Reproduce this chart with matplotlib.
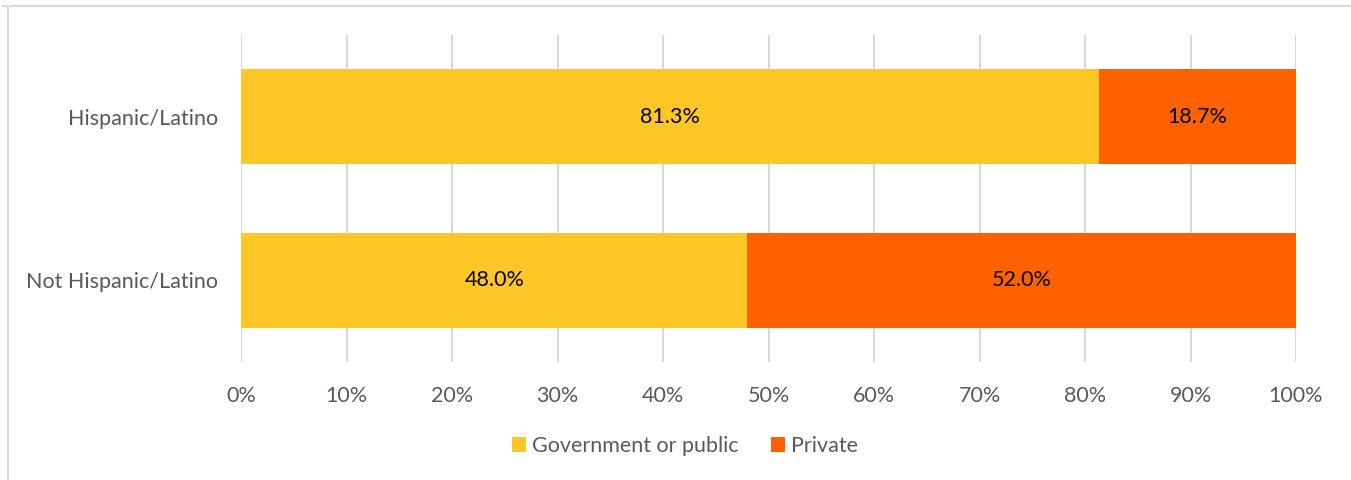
import matplotlib
matplotlib.use('Agg')
import matplotlib.pyplot as plt
from matplotlib.lines import Line2D
from matplotlib.patches import Patch

plt.rcParams['font.family'] = ['Lato', 'DejaVu Sans']

groups = ['Hispanic/Latino', 'Not Hispanic/Latino']
series_names = ['Government or public', 'Private']
gov = [81.3, 48.0]
private = [18.7, 52.0]
colors = ['#FFC627', '#FF6000']
xticks = [0, 10, 20, 30, 40, 50, 60, 70, 80, 90, 100]

fs = 15.5

fig = plt.figure(figsize=(13.51, 4.80), dpi=100)
ax = fig.add_axes([241/1351, 1 - 362/480, (1296 - 241)/1351, 327/480])

ypos = list(range(len(groups)))
ax.barh(ypos, gov, height=0.58, color=colors[0], zorder=3)
ax.barh(ypos, private, left=gov, height=0.58, color=colors[1], zorder=3)

for i in ypos:
    ax.text(gov[i] / 2, i, '%.1f%%' % gov[i], ha='center', va='center',
            fontsize=fs, color='black', zorder=4)
    ax.text(gov[i] + private[i] / 2, i, '%.1f%%' % private[i], ha='center', va='center',
            fontsize=fs, color='black', zorder=4)

ax.set_xlim(0, 100)
ax.set_ylim(len(groups) - 0.5, -0.5)
ax.set_yticks(ypos)
ax.set_yticklabels(groups, fontsize=fs, color='#595959')
ax.set_xticks(xticks)
ax.set_xticklabels(['%d%%' % t for t in xticks], fontsize=fs, color='#595959')
ax.tick_params(axis='both', length=0)
ax.tick_params(axis='x', pad=17)
ax.tick_params(axis='y', pad=16.5)
ax.grid(axis='x', color='#D9D9D9', linewidth=1.5, zorder=0)
for s in ax.spines.values():
    s.set_visible(False)

handles = [Patch(facecolor=c, edgecolor='none') for c in colors]
fig.legend(handles, series_names, loc='center', bbox_to_anchor=(685/1351, 1 - 446/480),
           ncol=2, frameon=False, fontsize=fs, handlelength=0.65, handleheight=0.65,
           handletextpad=0.3, columnspacing=1.5, labelcolor='#595959')

# outer chart frame (top and left edges visible)
fig.add_artist(Line2D([3/1351, 1], [1 - 5.5/480, 1 - 5.5/480], color='#D9D9D9', linewidth=1.5))
fig.add_artist(Line2D([8/1351, 8/1351], [0, 1 - 5.5/480], color='#D9D9D9', linewidth=1.5))

fig.savefig('out.png', dpi=100)
